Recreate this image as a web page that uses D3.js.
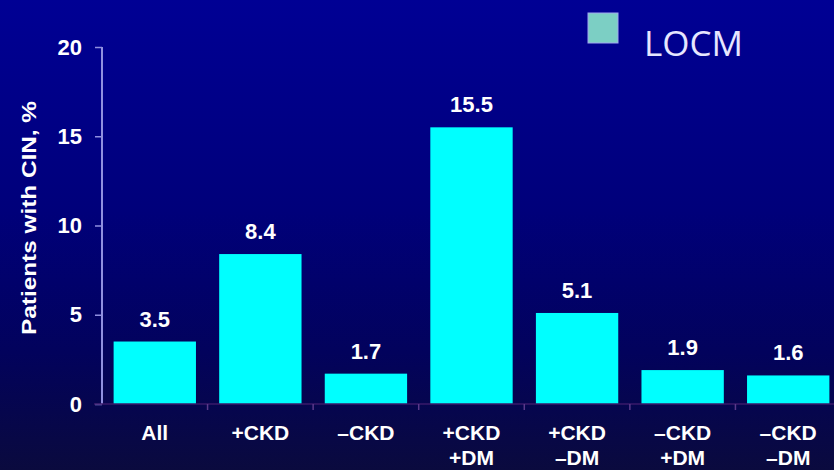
<!DOCTYPE html>
<html>
<head>
<meta charset="utf-8">
<script src="https://cdn.jsdelivr.net/npm/d3@7"></script>
<style>
  html, body { margin: 0; padding: 0; background: #00006a; }
  svg { display: block; }
</style>
</head>
<body>
<script>
// CIN incidence with low-osmolar contrast media, by CKD / diabetes subgroup
const categories = [["All"], ["+CKD"], ["\u2013CKD"], ["+CKD", "+DM"], ["+CKD", "\u2013DM"], ["\u2013CKD", "+DM"], ["\u2013CKD", "\u2013DM"]];
const values = [3.5, 8.4, 1.7, 15.5, 5.1, 1.9, 1.6];
const yTicks = [0, 5, 10, 15, 20];
const seriesName = "LOCM";

const W = 834, H = 470;
const margin = { left: 102, top: 47, right: -7, bottom: 66 };

const svg = d3.select("body").append("svg").attr("width", W).attr("height", H);

const defs = svg.append("defs");
const grad = defs.append("linearGradient").attr("id", "bg").attr("x1", 0).attr("y1", 0).attr("x2", 0).attr("y2", 1);
grad.append("stop").attr("offset", "0%").attr("stop-color", "#000094");
grad.append("stop").attr("offset", "45%").attr("stop-color", "#00007a");
grad.append("stop").attr("offset", "75%").attr("stop-color", "#02025c");
grad.append("stop").attr("offset", "100%").attr("stop-color", "#0a0a3e");
svg.append("rect").attr("width", W).attr("height", H).attr("fill", "url(#bg)");

const x = d3.scaleBand()
  .domain(d3.range(values.length))
  .range([margin.left, W - margin.right])
  .paddingInner(0.22)
  .paddingOuter(0.11);

const y = d3.scaleLinear().domain([0, 20]).range([H - margin.bottom, margin.top]);

const font = "Liberation Sans, Arial, sans-serif";

// bars
svg.append("g").selectAll("rect").data(values).join("rect")
  .attr("x", (d, i) => x(i))
  .attr("y", d => y(d))
  .attr("width", x.bandwidth())
  .attr("height", d => y(0) - y(d))
  .attr("fill", "#00ffff");

// value labels
svg.append("g").selectAll("text").data(values).join("text")
  .attr("x", (d, i) => x(i) + x.bandwidth() / 2)
  .attr("y", d => y(d) - 15)
  .attr("text-anchor", "middle")
  .attr("fill", "#ffffff")
  .attr("font-family", font)
  .attr("font-weight", "bold")
  .attr("font-size", 22)
  .text(d => d.toFixed(1));

// y axis
const yAxis = svg.append("g")
  .attr("transform", `translate(${margin.left},0)`)
  .call(d3.axisLeft(y).tickValues(yTicks).tickSize(7).tickPadding(13));
yAxis.select(".domain").attr("stroke", "#9090e0").attr("stroke-width", 2).attr("d", `M0,${y(20)}V${y(0)}`);
yAxis.selectAll(".tick line").attr("stroke", "#9090e0").attr("stroke-width", 1.5);
yAxis.selectAll(".tick text")
  .attr("fill", "#ffffff").attr("font-family", font).attr("font-weight", "bold").attr("font-size", 22);

// x axis
const step = x.step();
const xAxisG = svg.append("g").attr("transform", `translate(0,${y(0)})`);
xAxisG.append("line")
  .attr("x1", margin.left - 8).attr("x2", W)
  .attr("stroke", "#3a1a6a").attr("stroke-width", 1.5);
const sepTicks = d3.range(1, values.length).map(i => x(i) - (step - x.bandwidth()) / 2);
xAxisG.selectAll("line.sep").data(sepTicks).join("line")
  .attr("class", "sep")
  .attr("x1", d => d).attr("x2", d => d)
  .attr("y1", 0).attr("y2", 6)
  .attr("stroke", "#5a3a8a").attr("stroke-width", 1.5);

// category labels
const catG = svg.append("g").selectAll("text").data(categories).join("text")
  .attr("x", (d, i) => x(i) + x.bandwidth() / 2)
  .attr("y", y(0) + 36)
  .attr("text-anchor", "middle")
  .attr("fill", "#ffffff")
  .attr("font-family", font)
  .attr("font-weight", "bold")
  .attr("font-size", 21);
catG.selectAll("tspan").data(d => d).join("tspan")
  .attr("x", function () { return d3.select(this.parentNode).attr("x"); })
  .attr("dy", (d, j) => j === 0 ? 0 : 25)
  .text(d => d);

// y axis title
svg.append("text")
  .attr("transform", `translate(36,218) rotate(-90)`)
  .attr("text-anchor", "middle")
  .attr("fill", "#ffffff")
  .attr("font-family", font)
  .attr("font-weight", "bold")
  .attr("font-size", 20)
  .attr("textLength", 234)
  .attr("lengthAdjust", "spacingAndGlyphs")
  .text("Patients with CIN, %");

// legend
const legend = svg.append("g").attr("transform", "translate(588,13)");
legend.append("rect").attr("width", 30).attr("height", 30)
  .attr("fill", "#7ccfc4").attr("stroke", "#a0a8f0").attr("stroke-width", 1);
legend.append("text")
  .attr("x", 56).attr("y", 43)
  .attr("fill", "#e6e6ff")
  .attr("font-family", "Open Sans, Lato, sans-serif")
  .attr("font-size", 35)
  .text(seriesName);
</script>
</body>
</html>
